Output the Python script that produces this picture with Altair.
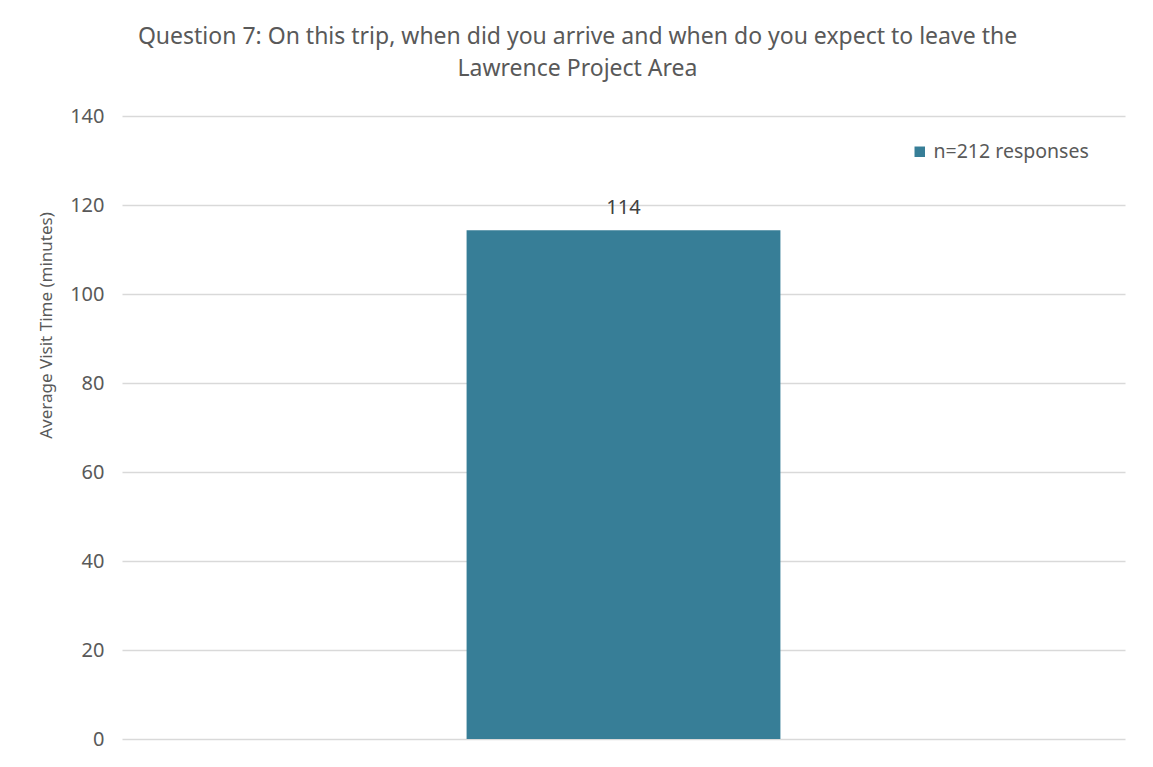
import altair as alt
import pandas as pd

categories = ["Visit"]
series = ["n=212 responses"]
values = [114.3]
y_ticks = [0, 20, 40, 60, 80, 100, 120, 140]

df = pd.DataFrame({"cat": categories, "series": series, "value": values})

FONT = "Noto Sans"
GRAY = "#595959"
BAR = "#377E97"

base = alt.Chart(df)

bars = base.mark_bar(color=BAR).encode(
    x=alt.X("cat:N", axis=None,
            scale=alt.Scale(paddingInner=0.5, paddingOuter=0.549)),
    y=alt.Y("value:Q",
            scale=alt.Scale(domain=[0, 140], nice=False),
            axis=alt.Axis(values=y_ticks, title="Average Visit Time (minutes)",
                          grid=True, gridColor="#d9d9d9", gridWidth=1.5,
                          domain=False, ticks=False,
                          labelFont=FONT, labelFontSize=20, labelColor=GRAY,
                          labelPadding=18,
                          titleFont=FONT, titleFontSize=17, titleColor=GRAY,
                          titleFontWeight="normal", titleAngle=270,
                          titleAlign="center", titleBaseline="middle",
                          titleX=-76, titleY=209)),
    color=alt.Color("series:N", scale=alt.Scale(range=[BAR]),
                    legend=alt.Legend(title=None, orient="none",
                                      legendX=788, legendY=26,
                                      symbolType="square", symbolSize=110,
                                      symbolStrokeWidth=0, symbolOpacity=1,
                                      labelFont=FONT, labelFontSize=19.5,
                                      labelColor=GRAY)),
)

labels = base.mark_text(baseline="bottom", dy=-12, font=FONT, fontSize=20,
                        color="#404040").encode(
    x=alt.X("cat:N"),
    y=alt.Y("value:Q"),
    text=alt.Text("value:Q", format=".0f"),
)

chart = (bars + labels).properties(
    width=1003,
    height=623,
    autosize=alt.AutoSizeParams(type="none"),
    padding={"left": 114, "top": 108, "right": 20, "bottom": 20},
    title=alt.TitleParams(
        text=["Question 7: On this trip, when did you arrive and when do you expect to leave the",
              "Lawrence Project Area"],
        font=FONT, fontSize=23, fontWeight="normal", color=GRAY,
        anchor="middle", dx=-46, lineHeight=32, offset=25,
    ),
).configure(background="white").configure_view(stroke=None)

chart.save("out.html", embed_options={"renderer": "svg", "actions": False})
